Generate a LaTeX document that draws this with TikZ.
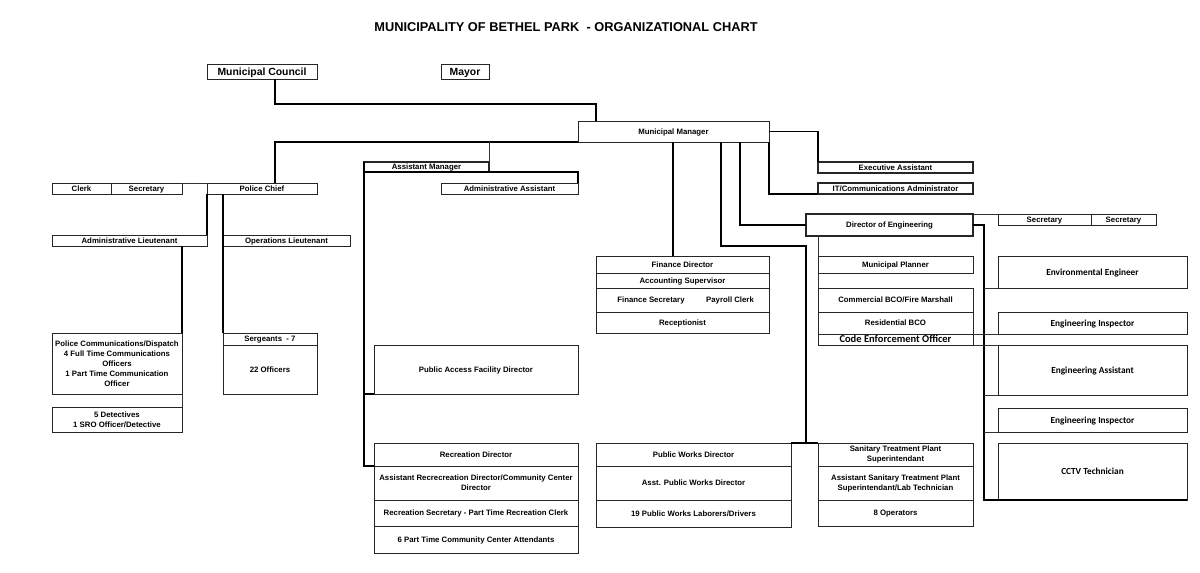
\documentclass[tikz,border=0pt]{standalone}
\usepackage{fontspec}
\setmainfont{Liberation Sans}
\newfontfamily\calib{Carlito}
\tikzset{
  box/.style={draw=black!85, line width=0.7pt, inner sep=0pt, outer sep=0pt,
     font=\fontsize{7.8}{10}\selectfont\bfseries, text height=5.6pt, text depth=0pt},
  ml/.style={align=center, text height=, text depth=},
  cal/.style={font=\fontsize{9.3}{11}\selectfont\calib\bfseries, text height=6pt},
  calbig/.style={font=\fontsize{10.5}{11}\selectfont\calib\bfseries, text height=6.8pt},
  big/.style={font=\fontsize{10.4}{12}\selectfont\bfseries, line width=0.9pt, text height=7.4pt},
  thickbox/.style={line width=1.1pt},
  conn/.style={draw=black, line width=1.2pt},
  thinconn/.style={draw=black!80, line width=0.6pt},
  lbl/.style={inner sep=0pt, font=\fontsize{7.8}{10}\selectfont\bfseries, text height=5.6pt, text depth=0pt},
}
\newcommand\ob[7][]{%
  \node[box,#1,minimum width={(#5-#3)*1pt},minimum height={(#6-#4)*1pt}] (#2)
     at ({(#3+#5)/2},{(#4+#6)/2}) {#7};}
\begin{document}
\begin{tikzpicture}[x=1pt,y=-1pt]
\useasboundingbox (0,0) rectangle (1200,573);
\node[inner sep=0pt, font=\fontsize{12.8}{14}\selectfont\bfseries] (title) at (566,27)
  {MUNICIPALITY OF BETHEL PARK \ - ORGANIZATIONAL CHART};
% top
\ob[big]{council}{207}{64}{317}{79}{Municipal Council}
\ob[big]{mayor}{441}{64}{489}{79}{Mayor}
\ob{mm}{578}{121}{769}{142}{Municipal Manager}
% assistant manager
\ob[thickbox]{am}{364}{162}{489}{172}{Assistant Manager}
\ob{aa}{441}{183}{578}{194}{Administrative Assistant}
% police
\ob{clerk}{52}{183}{111}{194}{Clerk}
\ob{psec}{111}{183}{182}{194}{Secretary}
\ob{pc}{207}{183}{317}{194}{Police Chief}
\ob{adminlt}{52}{235}{207}{246}{Administrative Lieutenant}
\ob{opslt}{223}{235}{350}{246}{Operations Lieutenant}
\ob[ml]{comm}{52}{333}{182}{394}{Police Communications/Dispatch\\4 Full Time Communications\\Officers\\1 Part Time Communication\\Officer}
\ob[ml]{det}{52}{407}{182}{432}{5 Detectives\\1 SRO Officer/Detective}
\ob{sgt}{223}{333}{317}{345}{Sergeants \ - 7}
\ob{off}{223}{345}{317}{394}{22 Officers}
% recreation
\ob{pafd}{374}{345}{578}{394}{Public Access Facility Director}
\ob{recdir}{374}{443}{578}{466}{Recreation Director}
\ob[ml]{arec}{374}{466}{578}{500}{Assistant Recrecreation Director/Community Center\\Director}
\ob{recsec}{374}{500}{578}{526}{Recreation Secretary - Part Time Recreation Clerk}
\ob{attend}{374}{526}{578}{553}{6 Part Time Community Center Attendants}
% finance
\ob{fd}{596}{256}{769}{273}{Finance Director}
\ob{accsup}{596}{273}{769}{288}{Accounting Supervisor}
\ob{finsec}{596}{288}{769}{312}{}
\node[lbl] (fsec) at (651,300) {Finance Secretary};
\node[lbl] (payc) at (730,300) {Payroll Clerk};
\ob{recep}{596}{312}{769}{333}{Receptionist}
% public works
\ob{pwd}{596}{443}{791}{466}{Public Works Director}
\ob{apwd}{596}{466}{791}{500}{Asst. Public Works Director}
\ob{pwl}{596}{500}{791}{527}{19 Public Works Laborers/Drivers}
% sanitary
\ob[ml]{std}{818}{443}{973}{466}{Sanitary Treatment Plant\\Superintendant}
\ob[ml]{astd}{818}{466}{973}{500}{Assistant Sanitary Treatment Plant\\Superintendant/Lab Technician}
\ob{ops}{818}{500}{973}{526}{8 Operators}
% right of manager
\ob[thickbox]{ea}{818}{162}{973}{173}{Executive Assistant}
\ob[thickbox]{it}{818}{183}{973}{194}{IT/Communications Administrator}
\ob[thickbox]{doe}{806}{214}{973}{236}{Director of Engineering}
\ob{esec1}{998}{214}{1091}{225}{Secretary}
\ob{esec2}{1091}{214}{1156}{225}{Secretary}
\ob{mp}{818}{256}{973}{273}{Municipal Planner}
\ob{cbco}{818}{288}{973}{312}{Commercial BCO/Fire Marshall}
\ob{rbco}{818}{312}{973}{334}{Residential BCO}
\ob[calbig]{code}{818}{334}{973}{345}{Code Enforcement Officer}
\ob[cal]{env}{998}{256}{1187}{288}{Environmental Engineer}
\ob[cal]{einsp1}{998}{312}{1187}{334}{Engineering Inspector}
\ob[cal]{eass}{998}{345}{1187}{395}{Engineering Assistant}
\ob[cal]{einsp2}{998}{408}{1187}{432}{Engineering Inspector}
\ob[cal]{cctv}{998}{443}{1187}{500}{CCTV Technician}
% connectors
\draw[conn] (275,0 |- council.south) -- (275,104) -- (596,104) -- (596,0 |- mm.north);
\draw[conn] (mm.south west) -- (275,0 |- mm.south) -- (275,0 |- pc.north);
\draw[thinconn] (489,0 |- mm.south) -- (am.north east);
\draw[conn] (am.south west) -- (aa.north east |- am.south) -- (aa.north east);
\draw[conn] (am.north west) -- (364,0 |- recdir.south) -- (recdir.south west);
\draw[conn] (364,0 |- pafd.south) -- (pafd.south west);
\draw[thinconn] (psec.north east) -- (pc.north west);
\draw[conn] (pc.south west) -- (adminlt.north east);
\draw[conn] (223,0 |- pc.south) -- (sgt.north west);
\draw[conn] (182,0 |- adminlt.south) -- (comm.north east);
\draw[thinconn] (comm.south east) -- (det.north east);
\draw[conn] (673,0 |- mm.south) -- (673,0 |- fd.north);
\draw[conn] (721,0 |- mm.south) -- (721,246) -- (806,246) -- (806,0 |- pwd.north);
\draw[conn] (pwd.north east) -- (std.north west);
\draw[conn] (740,0 |- mm.south) |- (doe.west);
\draw[conn] (mm.east) -| (ea.north west);
\draw[conn] (mm.south east) |- (it.south west);
\draw[thinconn] (doe.north east) -- (esec1.north west);
\draw[conn] (doe.east) -- (984,0 |- doe.east) -- (984,0 |- cctv.south) -- (cctv.south east);
\draw[thinconn] (984,0 |- env.south) -- (env.south west);
\draw[thinconn] (984,0 |- eass.south) -- (eass.south west);
\draw[thinconn] (984,0 |- einsp2.south) -- (einsp2.south west);
\draw[thinconn] (code.north east) -- (einsp1.south west);
\draw[thinconn] (code.south east) -- (eass.north west);
\draw[thinconn] (mp.north west |- doe.south) -- (mp.north west);
\draw[thinconn] (mp.south west) -- (cbco.north west);
\end{tikzpicture}
\end{document}
